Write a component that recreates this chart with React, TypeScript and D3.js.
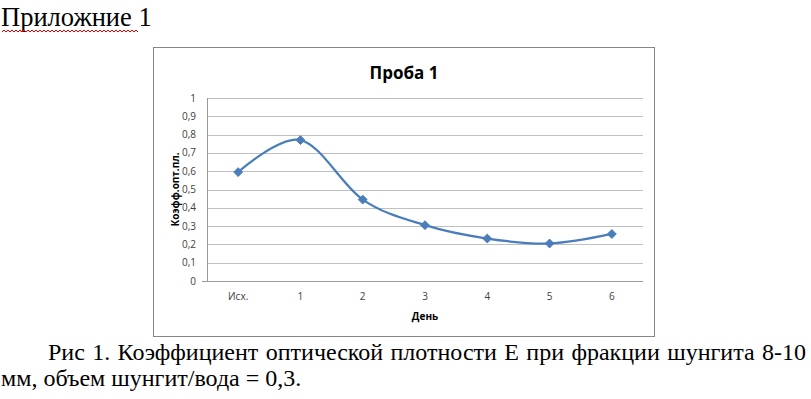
import * as d3 from 'd3';
import React, { useRef, useEffect } from 'react';

const days = ['Исх.', '1', '2', '3', '4', '5', '6'];
const values = [0.595, 0.77, 0.445, 0.305, 0.232, 0.205, 0.257];
const yTicks = [0, 0.1, 0.2, 0.3, 0.4, 0.5, 0.6, 0.7, 0.8, 0.9, 1];

const W = 811;
const H = 399;
const box = { left: 153, top: 47, right: 654, bottom: 336 };
const plot = { left: 207, top: 98, right: 643, bottom: 281 };
const chartFont = '"Open Sans", "Liberation Sans", sans-serif';
const serif = '"Liberation Serif", "Times New Roman", serif';
const lineColor = '#4a7ebb';

const fmt = (v: number) => String(Math.round(v * 10) / 10).replace('.', ',');

function App() {
  const ref = useRef<SVGSVGElement>(null);

  useEffect(() => {
    draw();
    justify();
  }, []); // eslint-disable-line react-hooks/exhaustive-deps

  // spread the first caption line to the right margin, like justified text in Word
  const justify = () => {
    const node = d3.select(ref.current).select<SVGTextElement>('.caption1').node();
    if (!node) return;
    node.setAttribute('word-spacing', '0');
    const natural = node.getComputedTextLength();
    const gaps = (node.textContent || '').trim().split(/\s+/).length - 1;
    const target = 806 - 48;
    node.setAttribute('word-spacing', String((target - natural) / gaps));
  };

  const draw = () => {
    const svg = d3.select(ref.current);
    svg.select('.chart').remove();
    const g = svg.insert('g', '.caption1').attr('class', 'chart');

    const xScale = d3.scaleBand().domain(days).range([plot.left, plot.right]);
    const yScale = d3.scaleLinear().domain([0, 1]).range([plot.bottom, plot.top]);
    const cx = (d: string) => (xScale(d) as number) + xScale.bandwidth() / 2;

    // chart frame
    g.append('rect')
      .attr('x', box.left + 0.5)
      .attr('y', box.top + 0.5)
      .attr('width', box.right - box.left)
      .attr('height', box.bottom - box.top)
      .attr('fill', '#fff')
      .attr('stroke', '#868686');

    // gridlines
    g.selectAll('line.grid')
      .data(yTicks.slice(1))
      .enter()
      .append('line')
      .attr('class', 'grid')
      .attr('x1', plot.left)
      .attr('x2', plot.right)
      .attr('y1', (d) => Math.round(yScale(d)) + 0.5)
      .attr('y2', (d) => Math.round(yScale(d)) + 0.5)
      .attr('stroke', '#c0c0c0');

    // axis lines
    g.append('line')
      .attr('x1', plot.left - 5)
      .attr('x2', plot.right)
      .attr('y1', plot.bottom + 0.5)
      .attr('y2', plot.bottom + 0.5)
      .attr('stroke', '#9a9a9a');
    g.append('line')
      .attr('x1', plot.left + 0.5)
      .attr('x2', plot.left + 0.5)
      .attr('y1', plot.top)
      .attr('y2', plot.bottom)
      .attr('stroke', '#9a9a9a');

    // y tick labels
    g.selectAll('text.ytick')
      .data(yTicks)
      .enter()
      .append('text')
      .attr('class', 'ytick')
      .attr('x', plot.left - 11)
      .attr('y', (d) => yScale(d) + 3.5)
      .attr('text-anchor', 'end')
      .attr('font-family', chartFont)
      .attr('font-size', 10)
      .attr('fill', '#404040')
      .text((d) => fmt(d));

    // x tick labels
    g.selectAll('text.xtick')
      .data(days)
      .enter()
      .append('text')
      .attr('class', 'xtick')
      .attr('x', (d) => cx(d))
      .attr('y', plot.bottom + 19)
      .attr('text-anchor', 'middle')
      .attr('font-family', chartFont)
      .attr('font-size', 10)
      .attr('fill', '#404040')
      .text((d) => d);

    // title and axis titles
    g.append('text')
      .attr('x', 404)
      .attr('y', 79)
      .attr('text-anchor', 'middle')
      .attr('font-family', chartFont)
      .attr('font-weight', 'bold')
      .attr('font-size', 17)
      .text('Проба 1');

    g.append('text')
      .attr('x', (plot.left + plot.right) / 2)
      .attr('y', 320)
      .attr('text-anchor', 'middle')
      .attr('font-family', chartFont)
      .attr('font-weight', 'bold')
      .attr('font-size', 10)
      .text('День');

    g.append('text')
      .attr('transform', `translate(179, ${(plot.top + plot.bottom) / 2}) rotate(-90)`)
      .attr('text-anchor', 'middle')
      .attr('font-family', chartFont)
      .attr('font-weight', 'bold')
      .attr('font-size', 10)
      .text('Коэфф.опт.пл.');

    // smoothed line
    const line = d3
      .line<number>()
      .x((_, i) => cx(days[i]))
      .y((d) => yScale(d))
      .curve(d3.curveCardinal.tension(0));

    g.append('path')
      .datum(values)
      .attr('d', line)
      .attr('fill', 'none')
      .attr('stroke', lineColor)
      .attr('stroke-width', 2.25);

    const diamond = d3.symbol().type(d3.symbolDiamond2).size(50);
    g.selectAll('path.marker')
      .data(values)
      .enter()
      .append('path')
      .attr('class', 'marker')
      .attr('d', diamond)
      .attr('transform', (d, i) => `translate(${cx(days[i])}, ${yScale(d)})`)
      .attr('fill', lineColor)
      .attr('stroke', lineColor)
      .attr('stroke-width', 1);
  };

  // red spell-check squiggle under the heading
  const squiggle = d3.range(0, 69).map((i) => [2 + i * 2, i % 2 === 0 ? 32 : 30] as [number, number]);

  return (
    <div style={{ position: 'absolute', left: 0, top: 0 }}>
      <svg ref={ref} width={W} height={H} style={{ display: 'block', background: '#fff' }}>
        <text x={1} y={26} fontFamily={serif} fontSize={26.5}>
          Приложние 1
        </text>
        <path d={d3.line()(squiggle) ?? ''} fill="none" stroke="#e00000" strokeWidth={1} />
        <text className="caption1" x={48} y={360} fontFamily={serif} fontSize={24}>
          Рис 1. Коэффициент оптической плотности Е при фракции шунгита 8-10
        </text>
        <text x={1} y={386} fontFamily={serif} fontSize={24}>
          мм, объем шунгит/вода = 0,3.
        </text>
      </svg>
    </div>
  );
}

export default App;
